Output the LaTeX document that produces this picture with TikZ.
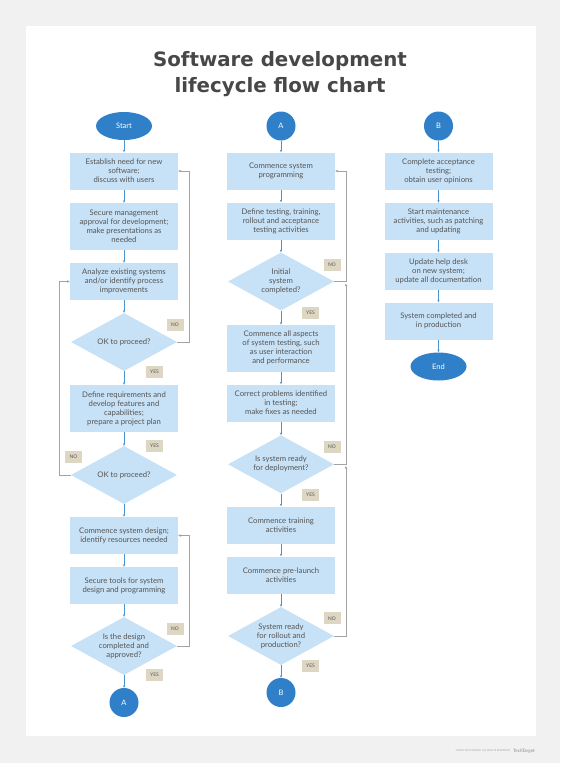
\documentclass[tikz,border=0pt]{standalone}
\usepackage{fontspec}
\setmainfont{Lato}
\newfontfamily\titlefont{DejaVu Sans}
\usetikzlibrary{shapes.geometric,arrows.meta}
\definecolor{bggray}{HTML}{F1F1F1}
\definecolor{boxblue}{HTML}{C7E1F6}
\definecolor{dblue}{HTML}{2F80C8}
\definecolor{arrowblue}{HTML}{4A93D3}
\definecolor{loopgray}{HTML}{A3A3A3}
\definecolor{txt}{HTML}{555555}
\definecolor{tagfill}{HTML}{DDD6C2}
\definecolor{titlegray}{HTML}{474747}
\begin{document}
\begin{tikzpicture}[x=1pt,y=-1pt,
  proc/.style={rectangle, fill=boxblue, minimum width=108pt, minimum height=37pt, inner sep=0pt, align=center, font=\fontsize{7.7}{9}\selectfont, text=txt},
  tall/.style={minimum height=47pt},
  term/.style={ellipse, fill=dblue, minimum width=56pt, minimum height=28pt, inner sep=0pt, text=white, font=\fontsize{7.5}{9}\selectfont},
  conn/.style={circle, fill=dblue, minimum size=29pt, inner sep=0pt, text=white, font=\fontsize{7.5}{9}\selectfont},
  dec/.style={diamond, fill=boxblue, aspect=1.83, minimum width=106pt, minimum height=58pt, inner sep=0pt, align=center, font=\fontsize{7.7}{9}\selectfont, text=txt},
  lbl/.style={rectangle, fill=tagfill, minimum width=17pt, minimum height=12pt, inner sep=0pt, font=\fontsize{4.9}{5}\selectfont, text=txt},
  flow/.style={draw=arrowblue, line width=0.6pt, -{Stealth[length=2.6pt,width=2.2pt]}},
  back/.style={draw=loopgray, line width=0.8pt, -{Stealth[length=3pt,width=2.6pt]}}
]
\fill[bggray] (0,0) rectangle (560,763);
\fill[white] (26,26) rectangle (536,736);
\useasboundingbox (0,0) rectangle (560,763);

% title
\node[anchor=base, font=\titlefont\bfseries\fontsize{19.8}{26}\selectfont, text=titlegray, inner sep=0pt] (t1) at (280,66) {Software development};
\node[anchor=base, font=\titlefont\bfseries\fontsize{19.8}{26}\selectfont, text=titlegray, inner sep=0pt] (t2) at (280,92) {lifecycle flow chart};

% column 1
\node[term] (start) at (124,126) {Start};
\node[proc] (a1) at (124,171) {Establish need for new\\software;\\discuss with users};
\node[proc,tall] (a2) at (124,226.5) {Secure management\\approval for development;\\make presentations as\\needed};
\node[proc] (a3) at (124,281.5) {Analyze existing systems\\and/or identify process\\improvements};
\node[dec] (d1) at (124,342) {OK to proceed?};
\node[proc,tall] (a4) at (124,408.5) {Define requirements and\\develop features and\\capabilities;\\prepare a project plan};
\node[dec] (d2) at (124,475) {OK to proceed?};
\node[proc] (a5) at (124,535.5) {Commence system design;\\identify resources needed};
\node[proc] (a6) at (124,585.5) {Secure tools for system\\design and programming};
\node[dec] (d3) at (124,646) {Is the design\\completed and\\approved?};
\node[conn] (ca) at (124,702.5) {A};

\node[lbl] (n1) at (175,325) {NO};
\node[lbl] (y1) at (154.5,372) {YES};
\node[lbl] (y2) at (154.5,445.5) {YES};
\node[lbl] (n2) at (73.5,457) {NO};
\node[lbl] (n3) at (175,629) {NO};
\node[lbl] (y3) at (154.5,675) {YES};

\draw[flow] (start) -- (a1);
\draw[flow] (a1) -- (a2);
\draw[flow] (a2) -- (a3);
\draw[flow] (a3) -- (d1);
\draw[flow] (d1) -- (a4);
\draw[flow] (a4) -- (d2);
\draw[flow] (d2) -- (a5);
\draw[flow] (a5) -- (a6);
\draw[flow] (a6) -- (d3);
\draw[flow] (d3) -- (ca);

\coordinate (r1) at (189,0);
\coordinate (l1) at (59,0);
\draw[back] (d1.east) -| (r1 |- a1.east) -- (a1.east);
\draw[back] (d2.west) -| (l1 |- a3.west) -- (a3.west);
\draw[back] (d3.east) -| (r1 |- a5.east) -- (a5.east);

% column 2
\node[conn] (cA) at (281,126) {A};
\node[proc] (b1) at (281,171) {Commence system\\programming};
\node[proc] (b2) at (281,221) {Define testing, training,\\rollout and acceptance\\testing activities};
\node[dec] (e1) at (281,281.5) {Initial\\system\\completed?};
\node[proc,tall] (b3) at (281,348.3) {Commence all aspects\\of system testing, such\\as user interaction\\and performance};
\node[proc] (b4) at (281,403) {Correct problems identified\\in testing;\\make fixes as needed};
\node[dec] (e2) at (281,464.3) {Is system ready\\for deployment?};
\node[proc] (b5) at (281,525) {Commence training\\activities};
\node[proc] (b6) at (281,575) {Commence pre-launch\\activities};
\node[dec] (e3) at (281,636) {System ready\\for rollout and\\production?};
\node[conn] (cB) at (281,692.5) {B};

\node[lbl] (n4) at (332,265) {NO};
\node[lbl] (y4) at (310.5,312.5) {YES};
\node[lbl] (n5) at (332,446.7) {NO};
\node[lbl] (y5) at (310.5,495) {YES};
\node[lbl] (n6) at (332,618.3) {NO};
\node[lbl] (y6) at (310.5,665.5) {YES};

\draw[flow] (cA) -- (b1);
\draw[flow] (b1) -- (b2);
\draw[flow] (b2) -- (e1);
\draw[flow] (e1) -- (b3);
\draw[flow] (b3) -- (b4);
\draw[flow] (b4) -- (e2);
\draw[flow] (e2) -- (b5);
\draw[flow] (b5) -- (b6);
\draw[flow] (b6) -- (e3);
\draw[flow] (e3) -- (cB);

\coordinate (r2) at (346,0);
\coordinate (m1) at (346,283.5);
\coordinate (m2) at (346,466);
\draw[back] (e1.east) -| (r2 |- b1.east) -- (b1.east);
\draw[back] (e2.east) -| (m1);
\draw[back] (e3.east) -| (m2);

% column 3
\node[conn] (cB2) at (438.5,126) {B};
\node[proc] (c1) at (438.5,171) {Complete acceptance\\testing;\\obtain user opinions};
\node[proc] (c2) at (438.5,221.3) {Start maintenance\\activities, such as patching\\and updating};
\node[proc] (c3) at (438.5,271) {Update help desk\\on new system;\\update all documentation};
\node[proc] (c4) at (438.5,321) {System completed and\\in production};
\node[term] (end) at (438.5,366.5) {End};

\draw[flow] (cB2) -- (c1);
\draw[flow] (c1) -- (c2);
\draw[flow] (c2) -- (c3);
\draw[flow] (c3) -- (c4);
\draw[flow] (c4) -- (end);

% footer
\node[anchor=east, font=\fontsize{2.6}{3}\selectfont, text=loopgray, inner sep=0pt] (foot) at (510,751) {\textcopyright 2020 TECHTARGET. ALL RIGHTS RESERVED};
\node[anchor=west, font=\bfseries\fontsize{4.6}{5}\selectfont, text=loopgray, inner sep=0pt] (logo) at (513,751) {TechTarget};
\end{tikzpicture}
\end{document}
